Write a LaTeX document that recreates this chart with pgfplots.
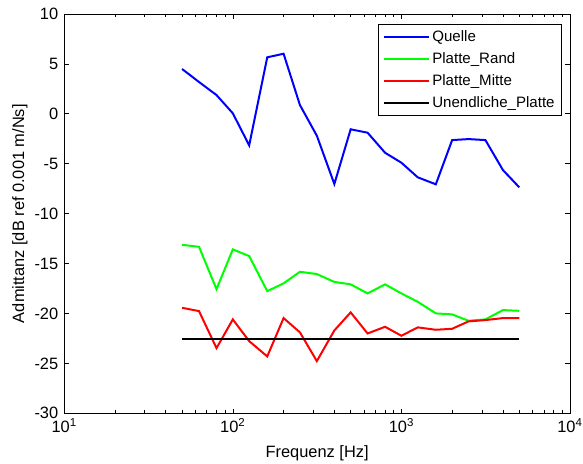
\documentclass[border=0pt]{standalone}
\usepackage{fontspec}
\setmainfont{Liberation Sans}
\usepackage{pgfplots}
\pgfplotsset{compat=1.18}
\usepackage{pgfplotstable}

\pgfplotstableread{
f     quelle  rand    mitte
50    4.49   -13.12  -19.43
63    3.19   -13.32  -19.76
80    1.88   -17.56  -23.47
100   0.05   -13.58  -20.59
125  -3.16   -14.25  -22.77
160   5.66   -17.76  -24.30
200   6.02   -16.98  -20.46
250   0.88   -15.82  -21.89
315  -2.19   -16.05  -24.77
400  -7.03   -16.84  -21.70
500  -1.55   -17.08  -19.89
630  -1.89   -17.99  -22.00
800  -3.90   -17.08  -21.33
1000 -4.90   -17.99  -22.23
1250 -6.36   -18.83  -21.39
1600 -7.06   -19.99  -21.63
2000 -2.63   -20.09  -21.53
2500 -2.53   -20.73  -20.79
3150 -2.63   -20.59  -20.66
4000 -5.63   -19.66  -20.46
5000 -7.36   -19.73  -20.46
}\messdata

\begin{document}
\begin{tikzpicture}
\begin{axis}[
at={(0,0)}, anchor=south west,
scale only axis,
width=379.3pt, height=299.5pt,
xmode=log,
xmin=10, xmax=10000,
ymin=-30, ymax=10,
ytick={-30,-25,...,10},
xtick={10,100,1000,10000},
xticklabels={10\textsuperscript{1},10\textsuperscript{2},10\textsuperscript{3},10\textsuperscript{4}},
/pgf/number format/assume math mode=true,
tick align=inside,
major tick length=3.5pt,
minor tick length=2.2pt,
axis line style={line width=0.6pt},
every tick/.style={black, line width=0.5pt},
tick label style={font=\fontsize{12.3}{14}\selectfont},
yticklabel style={xshift=-1pt},
xticklabel style={yshift=-0.5pt},
xlabel={Frequenz [Hz]},
ylabel={Admittanz [dB ref 0.001 m/Ns]},
every axis x label/.style={at={(axis description cs:0.5,-0.111)}, anchor=base,
  font=\fontsize{12.3}{14}\selectfont},
every axis y label/.style={at={(axis description cs:-0.0876,0.5)}, anchor=center, rotate=90,
  font=\fontsize{12.3}{14}\selectfont},
legend style={at={(0.9836,0.975)}, anchor=north east, draw=black, line width=0.6pt,
  font=\fontsize{11.3}{13}\selectfont, row sep=2.8pt, inner xsep=3pt, inner ysep=2.5pt},
legend cell align=left,
legend image code/.code={\draw[#1] (0pt,0pt) -- (33.75pt,0pt);},
]
\addplot [blue, line width=1.5pt] table [x=f, y=quelle] {\messdata};
\addlegendentry{Quelle}
\addplot [green, line width=1.5pt] table [x=f, y=rand] {\messdata};
\addlegendentry{Platte\_Rand}
\addplot [red, line width=1.5pt] table [x=f, y=mitte] {\messdata};
\addlegendentry{Platte\_Mitte}
\addplot [black, line width=1.5pt] table {
50   -22.6
5000 -22.6
};
\addlegendentry{Unendliche\_Platte}
\end{axis}
\pgfresetboundingbox
\path[use as bounding box] (-48.2pt,-38pt) rectangle (389.05pt,310pt);
\end{tikzpicture}
\end{document}
